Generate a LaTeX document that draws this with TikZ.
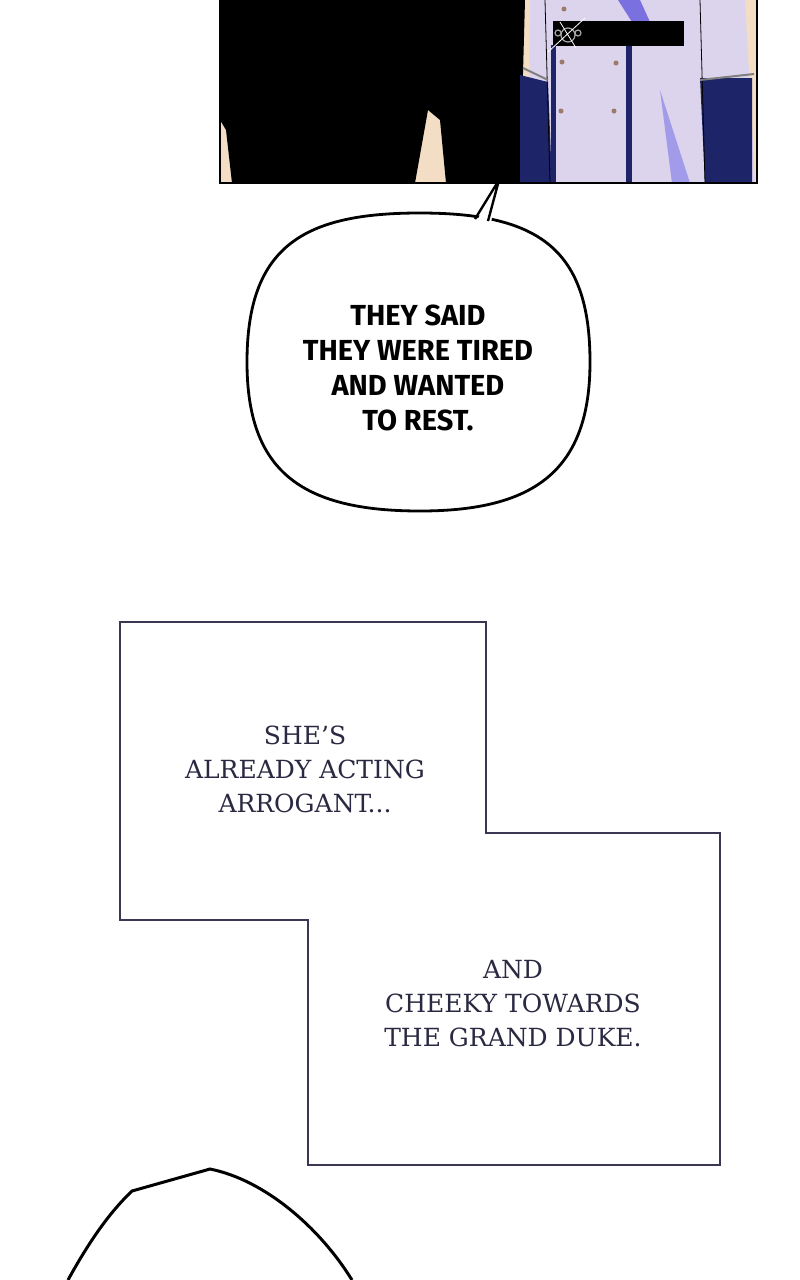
\documentclass[tikz,border=0pt]{standalone}
\usepackage{fontspec}
\newfontfamily\bubblefont{Fira Sans}
\newfontfamily\boxfont{DejaVu Serif}
\definecolor{floor}{HTML}{F3DDC4}
\definecolor{coat}{HTML}{DCD3EC}
\definecolor{navy}{HTML}{1E2468}
\definecolor{coatshade}{HTML}{7A70E0}
\definecolor{boxline}{HTML}{3B3652}
\definecolor{boxtext}{HTML}{2A2942}
\definecolor{button}{HTML}{9A7A68}
\begin{document}
\begin{tikzpicture}[x=1pt,y=-1pt,
  speech/.style={font=\bubblefont\bfseries\fontsize{29}{35}\selectfont, align=center, text=black},
  caption/.style={font=\boxfont\fontsize{25}{34}\selectfont, align=center, text=boxtext}]
\useasboundingbox (0,0) rectangle (800,1280);
\fill[white] (0,0) rectangle (800,1280);

% top panel
\fill[floor] (220,0) rectangle (757,183);
\fill[black] (220,0) -- (525,0) -- (520,183) -- (446,183) -- (440,120) -- (428,110) -- (415,183) -- (232,183) -- (226,130) -- (220,120) -- cycle;
\fill[coat] (530,0) -- (745,0) -- (755,183) -- (528,183) -- cycle;
\fill[navy] (520,75) -- (548,82) -- (552,183) -- (520,183) -- cycle;
\fill[navy] (700,78) -- (752,78) -- (752,183) -- (705,183) -- cycle;
\fill[coatshade] (618,0) -- (640,0) -- (650,22) -- (632,22) -- cycle;
\fill[coatshade!70] (660,90) -- (672,183) -- (690,183) -- cycle;
\fill[navy] (626,45) rectangle (632,183);
\fill[navy] (551,45) rectangle (556,183);
\draw[thick] (545,0) -- (550,183);
\draw[thick] (700,0) -- (705,183);
\fill[black] (553,21) rectangle (684,46);
\draw[gray!70, line width=1.2pt] (568,35) circle (7) (558,33) circle (3) (578,33) circle (3);
\draw[white, thick] (585,18) -- (548,52) (560,22) -- (576,48);
\foreach \bx/\by in {564/9, 562/62, 616/63, 561/111, 614/111}
  \fill[button] (\bx,\by) circle (2.5);
\draw[gray, line width=2pt] (523,68) -- (548,80) (700,80) -- (754,74);
\draw[line width=2.4pt] (220,0) -- (220,183) -- (757,183) -- (757,0);

% speech bubble
\draw[line width=2.8pt, fill=white] (247,362) .. controls (247,245) and (305,213) .. (420,213) .. controls (540,213) and (590,250) .. (590,362) .. controls (590,470) and (535,511) .. (420,511) .. controls (300,511) and (247,470) .. (247,362) -- cycle;
\fill[white] (474,226) -- (499,180) -- (490,228) -- cycle;
\draw[line width=2.4pt] (475,219) -- (499,180) -- (488,221);
\node[speech] (said) at (418,368) {THEY SAID\\THEY WERE TIRED\\AND WANTED\\TO REST.};

% narration boxes
\draw[boxline, line width=2.8pt] (120,622) -- (486,622) -- (486,833) -- (720,833) -- (720,1165) -- (308,1165) -- (308,920) -- (120,920) -- cycle;
\node[caption] (arrogant) at (305,769) {SHE’S\\ALREADY ACTING\\ARROGANT...};
\node[caption] (cheeky) at (513,1004) {AND\\CHEEKY TOWARDS\\THE GRAND DUKE.};

% next bubble
\draw[line width=3pt] (68,1280) .. controls (90,1240) and (110,1212) .. (132,1191) -- (210,1169) .. controls (265,1180) and (320,1228) .. (352,1280);
\end{tikzpicture}
\end{document}
